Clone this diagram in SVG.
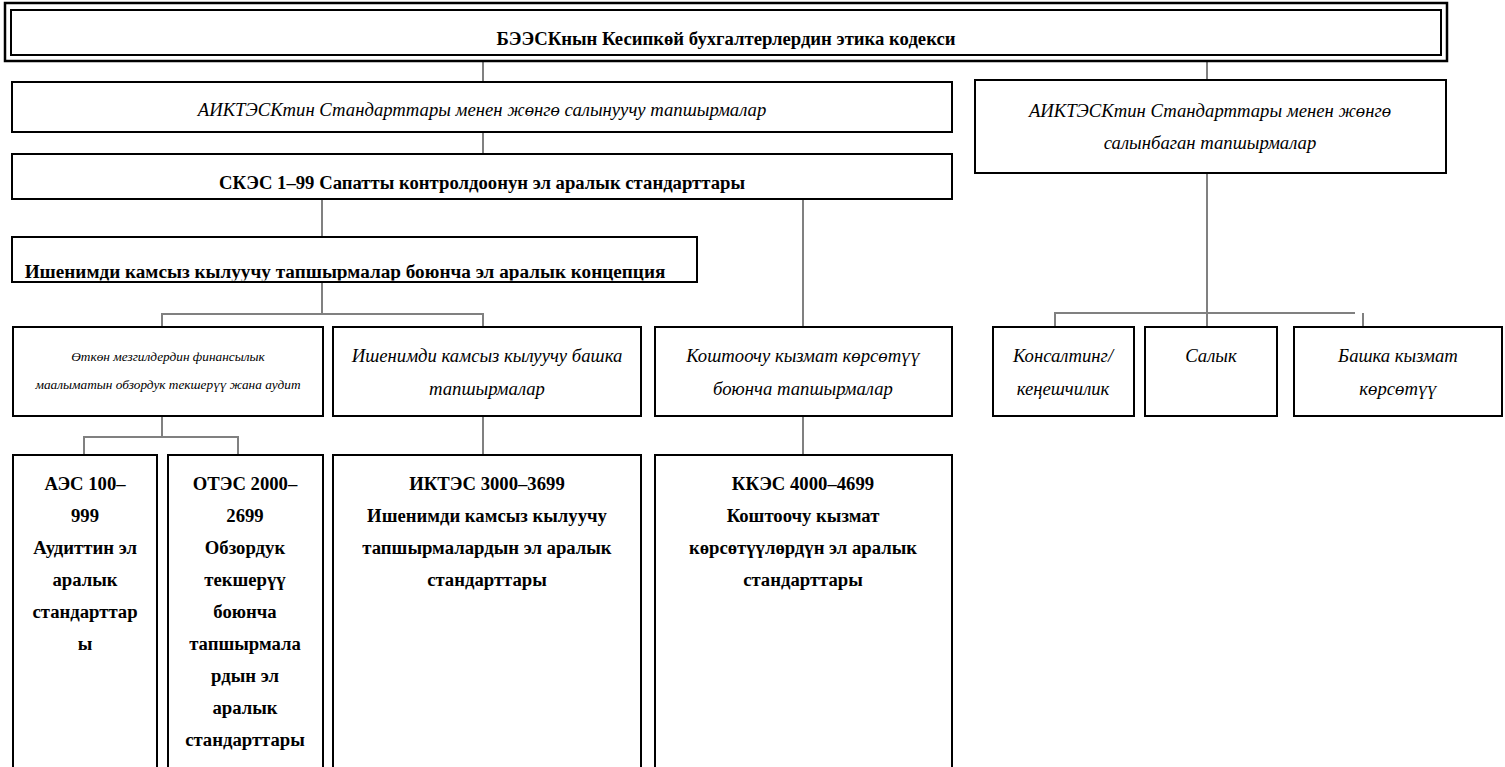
<svg xmlns="http://www.w3.org/2000/svg" width="1505" height="767" viewBox="0 0 1505 767">
<style>
.box{fill:#fff;stroke:#000;stroke-width:2}
.con{fill:none;stroke:#808080;stroke-width:2}
text{font-family:"Liberation Serif","Times New Roman",serif;fill:#000;text-anchor:middle}
.b{font-weight:bold;font-size:18.7px}
.i{font-style:italic;font-size:18.7px}
.s{font-style:italic;font-size:13.3px}
</style>
<defs>
<clipPath id="clipConcept"><rect x="12" y="237" width="685" height="43.5"/></clipPath>
</defs>
<rect width="1505" height="767" fill="#fff"/>
<g id="connectors">
<path class="con" d="M483 62V82"/>
<path class="con" d="M1207 62V80"/>
<path class="con" d="M483 132V154"/>
<path class="con" d="M322 199V237"/>
<path class="con" d="M803 199V327"/>
<path class="con" d="M322 282V314M162 327V314H483V327"/>
<path class="con" d="M162 416V437M84 455V437H238V455"/>
<path class="con" d="M483 416V455"/>
<path class="con" d="M803 416V455"/>
<path class="con" d="M1207 173V327"/>
<path class="con" d="M1055 327V313H1355"/>
<path class="con" d="M1363 313V327"/>
</g>
<g id="n-code">
<rect x="5" y="3" width="1442" height="58" fill="#fff" stroke="#000" stroke-width="2.5"/>
<rect x="11" y="10" width="1430" height="45" fill="none" stroke="#000" stroke-width="2"/>
<text class="b" x="726" y="45">БЭЭСКнын Кесипкөй бухгалтерлердин этика кодекси</text>
</g>
<g id="n-regulated">
<rect class="box" x="12" y="82" width="940" height="50"/>
<text class="i" x="482" y="116">АИКТЭСКтин Стандарттары менен жөнгө салынуучу тапшырмалар</text>
</g>
<g id="n-unregulated">
<rect class="box" x="975" y="80" width="471" height="93"/>
<text class="i" x="1210" y="117">АИКТЭСКтин Стандарттары менен жөнгө</text>
<text class="i" x="1210" y="149">салынбаган тапшырмалар</text>
</g>
<g id="n-iscq">
<rect class="box" x="12" y="154" width="940" height="45"/>
<text class="b" x="482" y="189">СКЭС 1–99 Сапатты контролдоонун эл аралык стандарттары</text>
</g>
<g id="n-concept">
<rect x="12" y="237" width="685" height="45" fill="#fff"/>
<text class="b" x="345" y="277.5" style="font-size:19.2px" clip-path="url(#clipConcept)">Ишенимди камсыз кылуучу тапшырмалар боюнча эл аралык концепция</text>
<rect x="12" y="237" width="685" height="45" fill="none" stroke="#000" stroke-width="2"/>
</g>
<g id="n-historical">
<rect class="box" x="13" y="327" width="310" height="89"/>
<text class="s" x="168" y="361">Өткөн мезгилдердин финансылык</text>
<text class="s" x="168" y="389">маалыматын обзордук текшерүү жана аудит</text>
</g>
<g id="n-other-assurance">
<rect class="box" x="333" y="327" width="308" height="89"/>
<text class="i" x="487" y="362">Ишенимди камсыз кылуучу башка</text>
<text class="i" x="487" y="395">тапшырмалар</text>
</g>
<g id="n-related">
<rect class="box" x="655" y="327" width="297" height="89"/>
<text class="i" x="803" y="362">Коштоочу кызмат көрсөтүү</text>
<text class="i" x="803" y="395">боюнча тапшырмалар</text>
</g>
<g id="n-consulting">
<rect class="box" x="993" y="327" width="141" height="89"/>
<text class="i" x="1063" y="362">Консалтинг/</text>
<text class="i" x="1063" y="395">кеңешчилик</text>
</g>
<g id="n-tax">
<rect class="box" x="1145" y="327" width="132" height="89"/>
<text class="i" x="1211" y="362">Салык</text>
</g>
<g id="n-other-services">
<rect class="box" x="1294" y="327" width="208" height="89"/>
<text class="i" x="1398" y="362">Башка кызмат</text>
<text class="i" x="1398" y="395">көрсөтүү</text>
</g>
<g id="n-isa">
<rect class="box" x="13" y="455" width="144" height="330"/>
<text class="b" x="85"><tspan x="85" y="490">АЭС 100–</tspan><tspan x="85" y="522">999</tspan><tspan x="85" y="554">Аудиттин эл</tspan><tspan x="85" y="586">аралык</tspan><tspan x="85" y="618">стандарттар</tspan><tspan x="85" y="650">ы</tspan></text>
</g>
<g id="n-isre">
<rect class="box" x="168" y="455" width="155" height="330"/>
<text class="b" x="245"><tspan x="245" y="490">ОТЭС 2000–</tspan><tspan x="245" y="522">2699</tspan><tspan x="245" y="554">Обзордук</tspan><tspan x="245" y="586">текшерүү</tspan><tspan x="245" y="618">боюнча</tspan><tspan x="245" y="650">тапшырмала</tspan><tspan x="245" y="682">рдын эл</tspan><tspan x="245" y="714">аралык</tspan><tspan x="245" y="746">стандарттары</tspan></text>
</g>
<g id="n-isae">
<rect class="box" x="333" y="455" width="308" height="330"/>
<text class="b" x="487"><tspan x="487" y="490">ИКТЭС 3000–3699</tspan><tspan x="487" y="522">Ишенимди камсыз кылуучу</tspan><tspan x="487" y="554">тапшырмалардын эл аралык</tspan><tspan x="487" y="586">стандарттары</tspan></text>
</g>
<g id="n-isrs">
<rect class="box" x="655" y="455" width="297" height="330"/>
<text class="b" x="803"><tspan x="803" y="490">ККЭС 4000–4699</tspan><tspan x="803" y="522">Коштоочу кызмат</tspan><tspan x="803" y="554">көрсөтүүлөрдүн эл аралык</tspan><tspan x="803" y="586">стандарттары</tspan></text>
</g>
</svg>
